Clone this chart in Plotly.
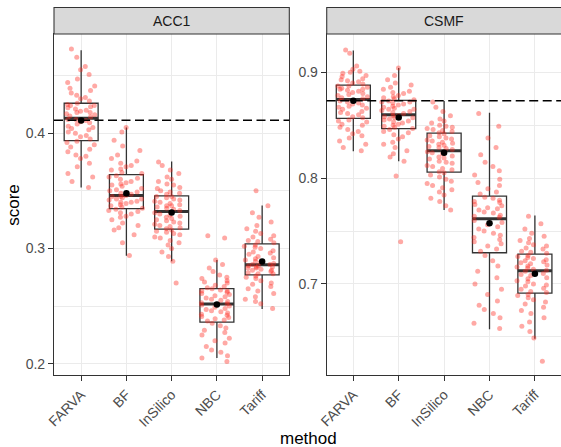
import plotly.graph_objects as go

methods = ["FARVA", "BF", "InSilico", "NBC", "Tariff"]
facets = ["ACC1", "CSMF"]

# ---------------- ACC1 scores (jittered points) ----------------
acc1_farva = [0.353, 0.358, 0.362, 0.365, 0.371, 0.374, 0.378, 0.380, 0.381, 0.384, 0.386, 0.388, 0.390, 0.392, 0.393,
              0.395, 0.397, 0.398, 0.400, 0.401, 0.403, 0.404, 0.405, 0.406, 0.408, 0.409, 0.410, 0.411, 0.412, 0.412,
              0.414, 0.415, 0.416, 0.417, 0.418, 0.418, 0.419, 0.420, 0.421, 0.422, 0.423, 0.424, 0.424, 0.425, 0.426,
              0.428, 0.430, 0.431, 0.433, 0.435, 0.437, 0.439, 0.441, 0.444, 0.447, 0.451, 0.455, 0.458, 0.466, 0.473]
acc1_bf = [0.294, 0.305, 0.312, 0.316, 0.318, 0.320, 0.322, 0.325, 0.327, 0.328, 0.330, 0.331, 0.332, 0.333, 0.334,
           0.335, 0.336, 0.337, 0.338, 0.339, 0.340, 0.340, 0.341, 0.342, 0.343, 0.343, 0.344, 0.345, 0.345, 0.346,
           0.347, 0.348, 0.349, 0.350, 0.351, 0.352, 0.354, 0.355, 0.356, 0.357, 0.358, 0.360, 0.361, 0.362, 0.363,
           0.365, 0.366, 0.368, 0.369, 0.371, 0.372, 0.374, 0.376, 0.378, 0.381, 0.385, 0.389, 0.394, 0.401, 0.405]
acc1_insilico = [0.270, 0.289, 0.293, 0.297, 0.300, 0.303, 0.305, 0.307, 0.309, 0.310, 0.312, 0.313, 0.314, 0.315, 0.316,
                 0.317, 0.318, 0.319, 0.320, 0.321, 0.322, 0.323, 0.324, 0.325, 0.326, 0.327, 0.328, 0.329, 0.330, 0.331,
                 0.333, 0.334, 0.335, 0.336, 0.337, 0.337, 0.338, 0.339, 0.340, 0.341, 0.342, 0.343, 0.344, 0.345, 0.345,
                 0.347, 0.348, 0.349, 0.350, 0.352, 0.353, 0.355, 0.356, 0.358, 0.360, 0.362, 0.365, 0.368, 0.372, 0.375]
acc1_nbc = [0.202, 0.205, 0.207, 0.210, 0.212, 0.215, 0.218, 0.220, 0.222, 0.225, 0.227, 0.229, 0.231, 0.233, 0.235,
            0.237, 0.238, 0.239, 0.240, 0.241, 0.242, 0.243, 0.244, 0.245, 0.246, 0.247, 0.248, 0.249, 0.250, 0.251,
            0.252, 0.253, 0.254, 0.255, 0.256, 0.257, 0.258, 0.259, 0.260, 0.261, 0.262, 0.263, 0.263, 0.264, 0.265,
            0.266, 0.267, 0.268, 0.270, 0.271, 0.272, 0.274, 0.275, 0.277, 0.280, 0.283, 0.286, 0.290, 0.309, 0.311]
acc1_tariff = [0.248, 0.252, 0.254, 0.256, 0.258, 0.261, 0.263, 0.265, 0.267, 0.269, 0.270, 0.272, 0.274, 0.275, 0.276,
               0.278, 0.278, 0.279, 0.280, 0.281, 0.281, 0.282, 0.283, 0.283, 0.284, 0.284, 0.285, 0.285, 0.286, 0.286,
               0.287, 0.288, 0.289, 0.290, 0.291, 0.292, 0.293, 0.295, 0.296, 0.297, 0.298, 0.300, 0.301, 0.302, 0.303,
               0.305, 0.306, 0.307, 0.308, 0.310, 0.311, 0.313, 0.315, 0.317, 0.320, 0.323, 0.327, 0.331, 0.337, 0.350]

# ---------------- CSMF scores (jittered points) ----------------
csmf_farva = [0.826, 0.829, 0.832, 0.835, 0.838, 0.840, 0.842, 0.844, 0.846, 0.848, 0.850, 0.851, 0.853, 0.854, 0.855,
              0.857, 0.858, 0.860, 0.861, 0.862, 0.863, 0.865, 0.866, 0.867, 0.868, 0.869, 0.870, 0.871, 0.872, 0.873,
              0.875, 0.876, 0.877, 0.878, 0.879, 0.880, 0.881, 0.882, 0.883, 0.884, 0.884, 0.885, 0.886, 0.887, 0.887,
              0.889, 0.890, 0.891, 0.892, 0.893, 0.894, 0.896, 0.897, 0.899, 0.900, 0.901, 0.903, 0.906, 0.918, 0.921]
csmf_bf = [0.740, 0.802, 0.816, 0.820, 0.823, 0.826, 0.829, 0.832, 0.834, 0.837, 0.839, 0.841, 0.843, 0.844, 0.846,
           0.847, 0.848, 0.849, 0.850, 0.851, 0.852, 0.853, 0.854, 0.855, 0.856, 0.857, 0.857, 0.858, 0.859, 0.859,
           0.861, 0.862, 0.863, 0.864, 0.865, 0.865, 0.866, 0.867, 0.868, 0.869, 0.870, 0.871, 0.872, 0.872, 0.873,
           0.874, 0.875, 0.876, 0.877, 0.878, 0.880, 0.881, 0.882, 0.884, 0.886, 0.888, 0.890, 0.893, 0.897, 0.904]
csmf_insilico = [0.770, 0.774, 0.778, 0.781, 0.784, 0.787, 0.789, 0.791, 0.793, 0.795, 0.797, 0.799, 0.801, 0.803, 0.805,
                 0.806, 0.808, 0.809, 0.811, 0.812, 0.814, 0.815, 0.816, 0.818, 0.819, 0.820, 0.821, 0.823, 0.824, 0.825,
                 0.827, 0.828, 0.829, 0.830, 0.831, 0.832, 0.833, 0.834, 0.835, 0.836, 0.837, 0.838, 0.839, 0.840, 0.842,
                 0.843, 0.844, 0.845, 0.846, 0.847, 0.848, 0.849, 0.850, 0.852, 0.854, 0.856, 0.859, 0.863, 0.867, 0.872]
csmf_nbc = [0.658, 0.663, 0.668, 0.672, 0.676, 0.680, 0.684, 0.690, 0.695, 0.700, 0.706, 0.712, 0.717, 0.722, 0.727,
            0.731, 0.733, 0.736, 0.738, 0.740, 0.742, 0.744, 0.746, 0.748, 0.750, 0.752, 0.754, 0.756, 0.758, 0.760,
            0.763, 0.764, 0.765, 0.767, 0.768, 0.770, 0.771, 0.772, 0.774, 0.775, 0.777, 0.778, 0.779, 0.781, 0.782,
            0.785, 0.787, 0.790, 0.793, 0.796, 0.799, 0.803, 0.807, 0.811, 0.815, 0.822, 0.829, 0.838, 0.849, 0.861]
csmf_tariff = [0.627, 0.649, 0.655, 0.660, 0.664, 0.668, 0.672, 0.675, 0.678, 0.681, 0.683, 0.685, 0.687, 0.689, 0.690,
               0.692, 0.693, 0.695, 0.696, 0.698, 0.699, 0.700, 0.702, 0.703, 0.705, 0.706, 0.708, 0.709, 0.710, 0.712,
               0.713, 0.714, 0.715, 0.716, 0.717, 0.718, 0.719, 0.720, 0.721, 0.722, 0.723, 0.724, 0.725, 0.726, 0.727,
               0.729, 0.730, 0.731, 0.733, 0.734, 0.736, 0.737, 0.739, 0.741, 0.743, 0.745, 0.748, 0.752, 0.757, 0.764]

# ---------------- Box statistics ----------------
acc1_q1 = [0.3936, 0.3346, 0.3167, 0.2361, 0.2771]
acc1_median = [0.4130, 0.3460, 0.3320, 0.2519, 0.2858]
acc1_q3 = [0.4260, 0.3640, 0.3456, 0.2652, 0.3040]
acc1_lower = [0.3530, 0.2936, 0.2889, 0.2049, 0.2474]
acc1_upper = [0.4720, 0.4050, 0.3754, 0.2900, 0.3372]
acc1_mean = [0.4110, 0.3480, 0.3311, 0.2514, 0.2886]

csmf_q1 = [0.8564, 0.8467, 0.8057, 0.7295, 0.6913]
csmf_median = [0.8744, 0.8600, 0.8260, 0.7616, 0.7125]
csmf_q3 = [0.8878, 0.8734, 0.8425, 0.7830, 0.7282]
csmf_lower = [0.8255, 0.8160, 0.7700, 0.6573, 0.6482]
csmf_upper = [0.9207, 0.9040, 0.8728, 0.8618, 0.7647]
csmf_mean = [0.8732, 0.8574, 0.8240, 0.7575, 0.7097]

# reference (FARVA mean) dashed lines
ref_lines = [0.4113, 0.8732]

acc1_points = [acc1_farva, acc1_bf, acc1_insilico, acc1_nbc, acc1_tariff]
csmf_points = [csmf_farva, csmf_bf, csmf_insilico, csmf_nbc, csmf_tariff]

panels = [
    dict(points=acc1_points, q1=acc1_q1, med=acc1_median, q3=acc1_q3, lo=acc1_lower, hi=acc1_upper, mean=acc1_mean),
    dict(points=csmf_points, q1=csmf_q1, med=csmf_median, q3=csmf_q3, lo=csmf_lower, hi=csmf_upper, mean=csmf_mean),
]

FONT = "Liberation Sans, Arial, sans-serif"
BOXLINE = "#333333"
PT_COLOR = "rgba(255,40,30,0.40)"
N_BANDS = 6  # split each group into value bands so plotly's jitter spreads evenly

fig = go.Figure()
for i, p in enumerate(panels):
    xa = "x" if i == 0 else "x2"
    ya = "y" if i == 0 else "y2"
    # boxes
    fig.add_trace(go.Box(
        x=methods, q1=p["q1"], median=p["med"], q3=p["q3"],
        lowerfence=p["lo"], upperfence=p["hi"],
        boxpoints=False, width=0.75, whiskerwidth=0,
        fillcolor="white", line=dict(color=BOXLINE, width=1.3),
        xaxis=xa, yaxis=ya, showlegend=False, hoverinfo="skip"))
    # thick median bars
    fig.add_trace(go.Box(
        x=methods, q1=p["med"], median=p["med"], q3=p["med"],
        lowerfence=p["med"], upperfence=p["med"],
        boxpoints=False, width=0.75, whiskerwidth=0,
        fillcolor="rgba(0,0,0,0)", line=dict(color=BOXLINE, width=3),
        xaxis=xa, yaxis=ya, showlegend=False, hoverinfo="skip"))
    # jittered points (in value bands)
    for b in range(N_BANDS):
        xs, ys = [], []
        for m, vals in zip(methods, p["points"]):
            s = sorted(vals)
            n = len(s)
            chunk = s[b * n // N_BANDS:(b + 1) * n // N_BANDS]
            xs += [m] * len(chunk)
            ys += chunk
        fig.add_trace(go.Box(
            x=xs, y=ys, boxpoints="all", jitter=1, pointpos=0, width=0.8,
            fillcolor="rgba(0,0,0,0)", line=dict(color="rgba(0,0,0,0)", width=0),
            marker=dict(color=PT_COLOR, size=5, line=dict(width=0)),
            xaxis=xa, yaxis=ya, showlegend=False, hoveron="points"))
    # means
    fig.add_trace(go.Scatter(
        x=methods, y=p["mean"], mode="markers",
        marker=dict(color="black", size=6.5),
        xaxis=xa, yaxis=ya, showlegend=False))

W, H = 561, 447
ML, MT, MB = 54, 34, 72
PW = W - ML
PH = H - MT - MB

common_x = dict(
    type="category", categoryorder="array", categoryarray=methods,
    showgrid=True, gridcolor="#EBEBEB", gridwidth=1.07,
    ticks="outside", ticklen=5, tickwidth=1.07, tickcolor=BOXLINE,
    tickangle=-45, tickfont=dict(family=FONT, size=14, color="#4D4D4D"),
    showline=True, linecolor=BOXLINE, linewidth=1.07, zeroline=False,
)
common_y = dict(
    showgrid=True, gridcolor="#EBEBEB", gridwidth=1.07,
    dtick=0.1, tick0=0, tickformat=".1f",
    minor=dict(dtick=0.05, tick0=0, showgrid=True, gridcolor="#EBEBEB", gridwidth=0.55, ticks=""),
    ticks="outside", ticklen=5, tickwidth=1.07, tickcolor=BOXLINE,
    tickfont=dict(family=FONT, size=14, color="#4D4D4D"),
    showline=True, linecolor=BOXLINE, linewidth=1.07, zeroline=False,
)

fig.update_layout(
    width=W, height=H,
    margin=dict(l=ML, r=0, t=MT, b=MB),
    paper_bgcolor="white", plot_bgcolor="white",
    boxmode="overlay", showlegend=False,
    font=dict(family=FONT),
    xaxis=dict(common_x, domain=[0, 0.4641], range=[-0.6, 4.6], mirror=True, anchor="y"),
    xaxis2=dict(common_x, domain=[0.5379, 1], range=[-0.586, 4.575], mirror=True, anchor="y2"),
    yaxis=dict(common_y, range=[0.1902, 0.4861], mirror=True, anchor="x"),
    yaxis2=dict(common_y, range=[0.614, 0.9362], mirror=False, anchor="x2"),
)

# dashed reference lines
fig.add_shape(type="line", xref="x domain", yref="y", x0=0, x1=1, y0=ref_lines[0], y1=ref_lines[0],
              line=dict(color="black", width=1.5, dash="9px,4.5px"), layer="above")
fig.add_shape(type="line", xref="x2 domain", yref="y2", x0=0, x1=1, y0=ref_lines[1], y1=ref_lines[1],
              line=dict(color="black", width=1.5, dash="9px,4.5px"), layer="above")

# facet strips
strip_h = 26.5 / PH
for i, (xr, lab) in enumerate(zip(["x domain", "x2 domain"], facets)):
    fig.add_shape(type="rect", xref=xr, yref="paper", x0=0, x1=1 if i == 0 else 1.02,
                  y0=1, y1=1 + strip_h, fillcolor="#D9D9D9",
                  line=dict(color=BOXLINE, width=1.07), layer="above")
    fig.add_annotation(xref=xr, yref="paper", x=0.5, y=1 + strip_h / 2, text=lab,
                       showarrow=False, xanchor="center", yanchor="middle",
                       font=dict(family=FONT, size=14, color="#1A1A1A"))

# axis titles
fig.add_annotation(xref="paper", yref="paper", x=(13.3 - ML) / PW, y=0.5, text="score",
                   textangle=-90, showarrow=False, xanchor="center", yanchor="middle",
                   font=dict(family=FONT, size=17, color="black"))
fig.add_annotation(xref="paper", yref="paper", x=(308 - ML) / PW, y=(375 - 438) / PH, text="method",
                   showarrow=False, xanchor="center", yanchor="middle",
                   font=dict(family=FONT, size=17, color="black"))

fig.write_html("out.html")
